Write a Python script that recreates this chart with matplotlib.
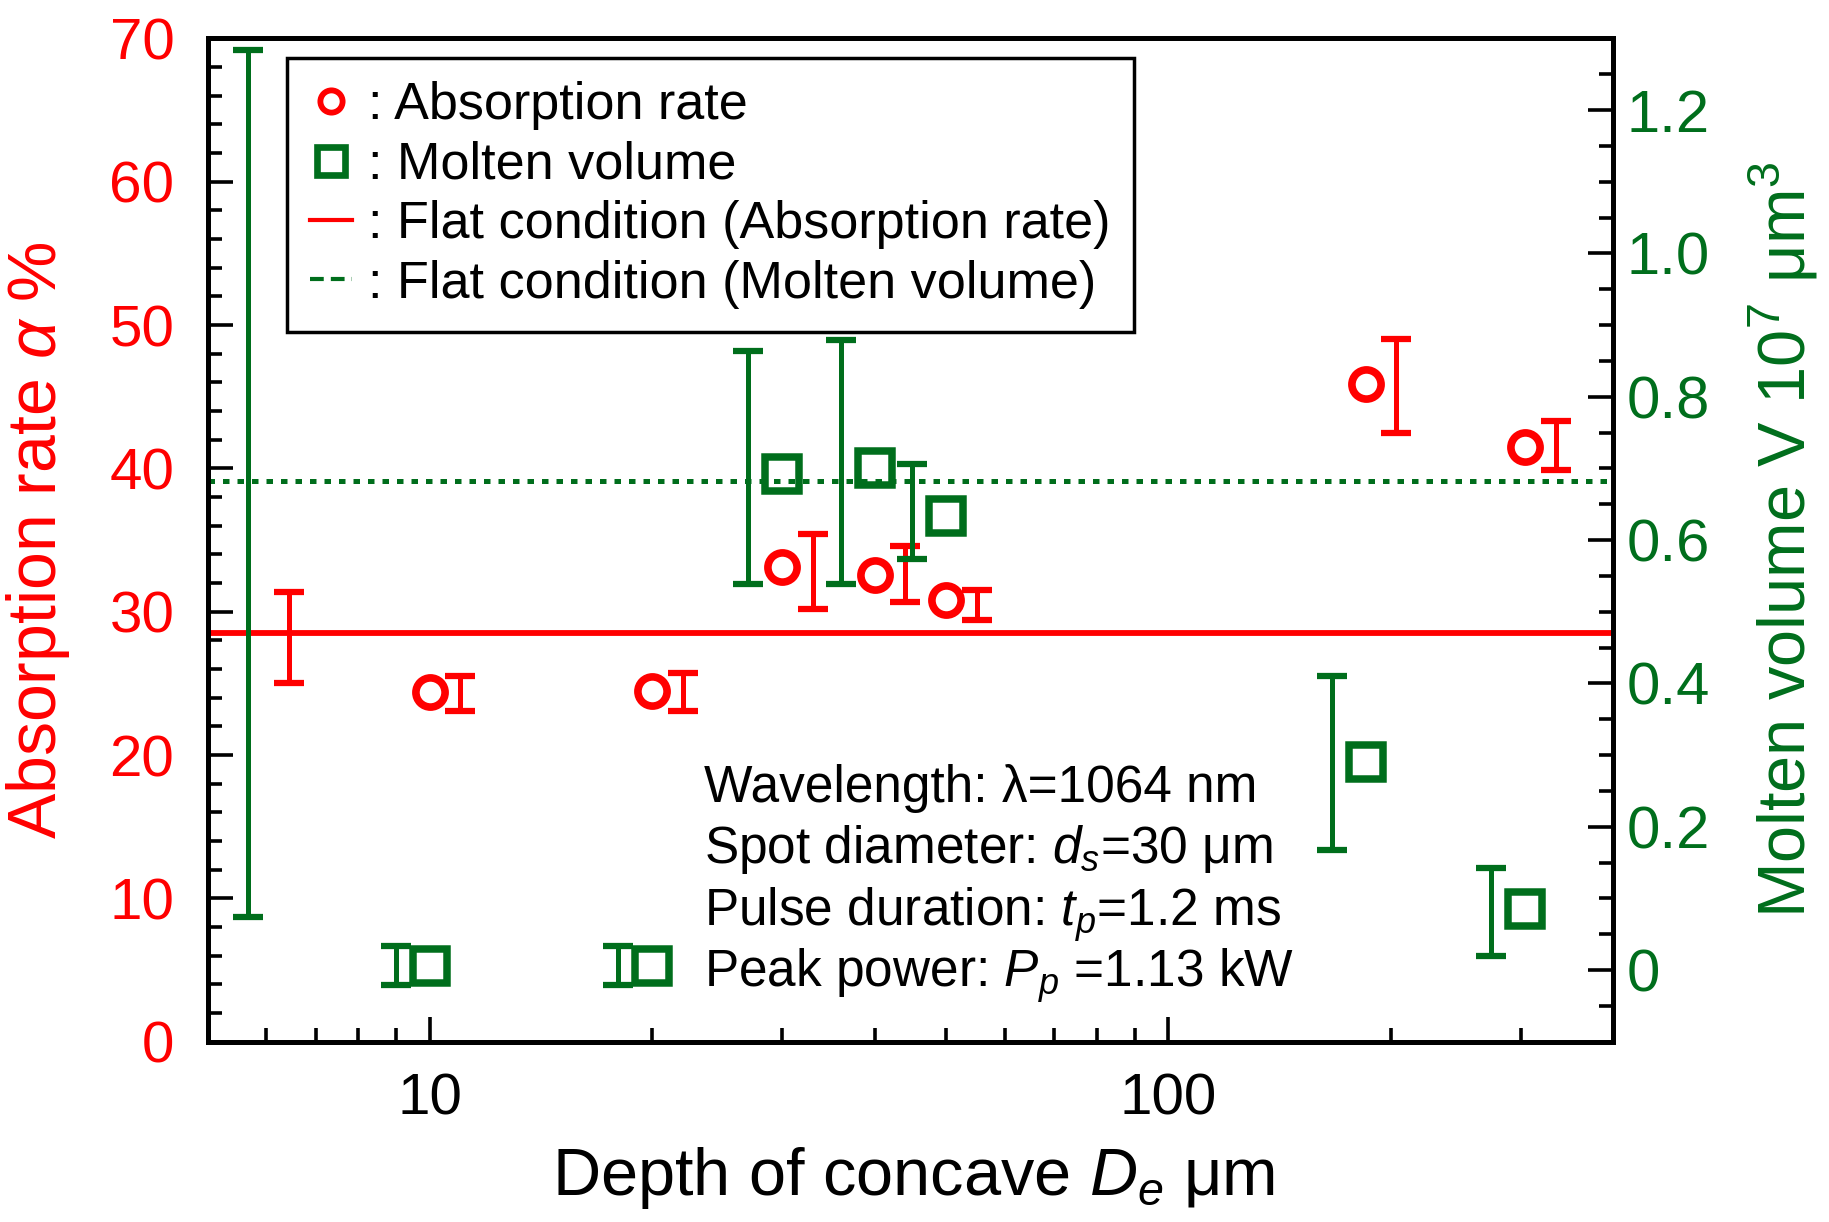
import matplotlib
matplotlib.use("Agg")
import matplotlib.pyplot as plt
from matplotlib.lines import Line2D
from matplotlib.ticker import (FixedLocator, MultipleLocator, LogLocator,
                               FuncFormatter, NullFormatter)

plt.rcParams["font.family"] = ["Liberation Sans", "DejaVu Sans"]
plt.rcParams["mathtext.fontset"] = "custom"
plt.rcParams["mathtext.rm"] = "Liberation Sans"
plt.rcParams["mathtext.it"] = "Liberation Sans:italic"

RED = "#ff0000"
GREEN = "#006e1c"

# depth of concave De (um)
depth = [10, 20, 30, 40, 50, 185, 304]

# absorption rate alpha (%) and its error bar ends
absorption = [24.4, 24.5, 33.1, 32.6, 30.8, 45.9, 41.5]
abs_bar_low = [23.1, 23.1, 30.2, 30.7, 29.4, 42.5, 39.9]
abs_bar_high = [25.5, 25.7, 35.4, 34.6, 31.5, 49.0, 43.3]

# molten volume V (1e7 um^3) and its error bar ends
volume = [0.006, 0.006, 0.692, 0.700, 0.634, 0.291, 0.085]
vol_bar_low = [-0.021, -0.021, 0.539, 0.539, 0.573, 0.168, 0.020]
vol_bar_high = [0.033, 0.033, 0.864, 0.879, 0.706, 0.410, 0.143]

# flat condition
flat_abs = 28.5
flat_abs_low, flat_abs_high = 25.05, 31.4
flat_abs_depth = 6.45
flat_vol = 0.682
flat_vol_low, flat_vol_high = 0.074, 1.284
flat_vol_depth = 5.68

legend_labels = [": Absorption rate", ": Molten volume",
                 ": Flat condition (Absorption rate)",
                 ": Flat condition (Molten volume)"]
conditions = ["Wavelength: \u03bb=1064 nm",
              "Spot diameter: $d_s$=30 \u03bcm",
              "Pulse duration: $t_p$=1.2 ms",
              "Peak power: $P_p$ =1.13 kW"]

fig = plt.figure(figsize=(18.29, 12.22), dpi=100)
ax = fig.add_axes([0.1135, 0.1475, 0.7684, 0.821])
ax2 = ax.twinx()

# flat condition lines
ax.axhline(flat_abs, color=RED, lw=4.2)
ax2.axhline(flat_vol, color=GREEN, lw=3.6, ls=(0, (1.3, 1.6)),
            dash_capstyle="butt")

# error bars (drawn beside the markers, as in the original)
ax.errorbar([d * 1.1 for d in depth],
            [(lo + hi) / 2 for lo, hi in zip(abs_bar_low, abs_bar_high)],
            yerr=[(hi - lo) / 2 for lo, hi in zip(abs_bar_low, abs_bar_high)],
            fmt="none", ecolor=RED, elinewidth=3.6, capsize=10.5, capthick=4.5)
ax.errorbar([flat_abs_depth], [(flat_abs_low + flat_abs_high) / 2],
            yerr=[(flat_abs_high - flat_abs_low) / 2],
            fmt="none", ecolor=RED, elinewidth=3.6, capsize=10.5, capthick=4.5)
ax2.errorbar([d * 0.9 for d in depth],
             [(lo + hi) / 2 for lo, hi in zip(vol_bar_low, vol_bar_high)],
             yerr=[(hi - lo) / 2 for lo, hi in zip(vol_bar_low, vol_bar_high)],
             fmt="none", ecolor=GREEN, elinewidth=3.6, capsize=10.5, capthick=4.5)
ax2.errorbar([flat_vol_depth], [(flat_vol_low + flat_vol_high) / 2],
             yerr=[(flat_vol_high - flat_vol_low) / 2],
             fmt="none", ecolor=GREEN, elinewidth=3.6, capsize=10.5, capthick=4.5)

# markers
ax.plot(depth, absorption, ls="none", marker="o", ms=21, mew=5.5,
        mec=RED, mfc="none")
ax2.plot(depth, volume, ls="none", marker="s", ms=24, mew=5.4,
         mec=GREEN, mfc="none")

# axes
ax.set_xscale("log")
ax.set_xlim(5, 400)
ax.set_ylim(0, 70)
ax2.set_ylim(-0.1, 1.3)

ax.xaxis.set_major_locator(FixedLocator([10, 100]))
ax.xaxis.set_major_formatter(FuncFormatter(lambda v, p: f"{v:g}"))
ax.xaxis.set_minor_locator(LogLocator(base=10, subs=range(2, 10)))
ax.xaxis.set_minor_formatter(NullFormatter())
ax.yaxis.set_major_locator(MultipleLocator(10))
ax.yaxis.set_minor_locator(MultipleLocator(2))
ax2.yaxis.set_major_locator(FixedLocator([0, 0.2, 0.4, 0.6, 0.8, 1.0, 1.2]))
ax2.yaxis.set_major_formatter(
    FuncFormatter(lambda v, p: "0" if abs(v) < 1e-9 else f"{v:.1f}"))
ax2.yaxis.set_minor_locator(MultipleLocator(0.05))

for a in (ax, ax2):
    for s in a.spines.values():
        s.set_linewidth(3.5)
    a.tick_params(which="both", direction="in", top=False, width=2.6)
    a.tick_params(which="major", length=18)
    a.tick_params(which="minor", length=10)

ax.tick_params(right=False)
ax.tick_params(axis="y", labelcolor=RED, labelsize=42, pad=24)
ax.tick_params(axis="x", labelsize=42, pad=22)
ax2.tick_params(axis="y", labelcolor=GREEN, labelsize=43, pad=10)

ax.set_ylabel("Absorption rate $\\alpha$ %", color=RED, fontsize=49, va="center")
ax.yaxis.set_label_coords(-0.121, 0.5)
ax2.set_ylabel("Molten volume V 10$^7$ \u03bcm$^3$", color=GREEN, fontsize=48,
               va="center")
ax2.yaxis.set_label_coords(1.121, 0.5)
ax.set_xlabel("Depth of concave $D_e$ \u03bcm", fontsize=48, va="center")
ax.xaxis.set_label_coords(0.502, -0.136)

# legend
handles = [
    Line2D([], [], ls="none", marker="o", ms=16, mew=4.2, mec=RED, mfc="none"),
    Line2D([], [], ls="none", marker="s", ms=20, mew=4.8, mec=GREEN, mfc="none"),
    Line2D([], [], color=RED, lw=3),
    Line2D([], [], color=GREEN, lw=3, ls=(0, (3.3, 1.7))),
]
leg = ax2.legend(handles, legend_labels, loc="upper left",
                 bbox_to_anchor=(0.0565, 0.9806), borderaxespad=0,
                 fontsize=37.5, handlelength=0.8, handletextpad=0.3,
                 labelspacing=0.2, borderpad=0.45, fancybox=False,
                 edgecolor="black", framealpha=1)
leg.get_frame().set_linewidth(2.5)

# experimental conditions
for i, line in enumerate(conditions):
    ax2.text(0.3529, 0.2392 - i * 0.0615, line, transform=ax2.transAxes,
             fontsize=37, va="baseline", ha="left")

fig.savefig("out.png", dpi=100)
